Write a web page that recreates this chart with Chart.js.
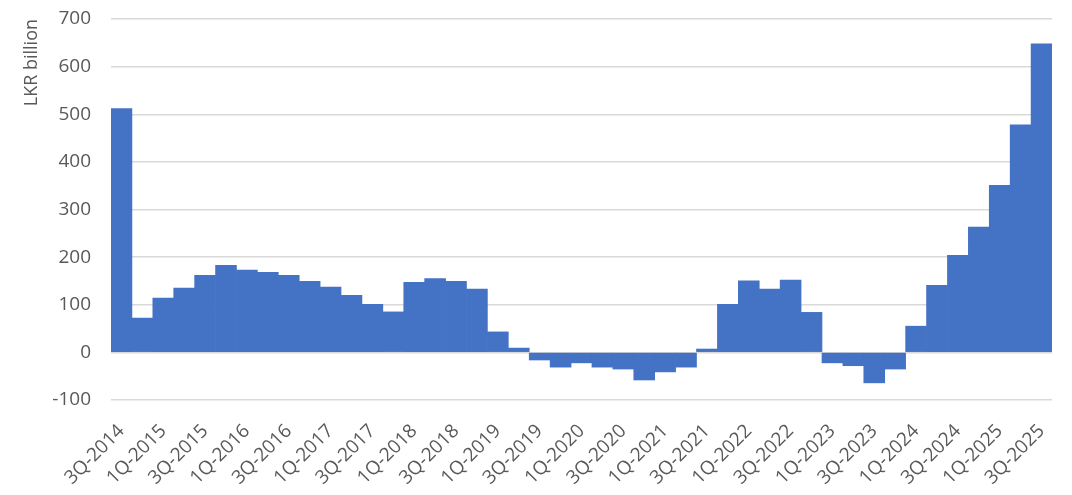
<!DOCTYPE html>
<html>
<head>
<meta charset="utf-8">
<script src="https://cdn.jsdelivr.net/npm/chart.js@4.4.0/dist/chart.umd.min.js"></script>
<style>
  html, body { margin: 0; padding: 0; background: #fff; }
  #wrap { width: 1072px; height: 495px; }
</style>
</head>
<body>
<div id="wrap"><canvas id="chart"></canvas></div>
<script>
// Quarters 3Q-2014 .. 3Q-2025
const quarters = [
  '3Q-2014', '4Q-2014',
  '1Q-2015', '2Q-2015', '3Q-2015', '4Q-2015',
  '1Q-2016', '2Q-2016', '3Q-2016', '4Q-2016',
  '1Q-2017', '2Q-2017', '3Q-2017', '4Q-2017',
  '1Q-2018', '2Q-2018', '3Q-2018', '4Q-2018',
  '1Q-2019', '2Q-2019', '3Q-2019', '4Q-2019',
  '1Q-2020', '2Q-2020', '3Q-2020', '4Q-2020',
  '1Q-2021', '2Q-2021', '3Q-2021', '4Q-2021',
  '1Q-2022', '2Q-2022', '3Q-2022', '4Q-2022',
  '1Q-2023', '2Q-2023', '3Q-2023', '4Q-2023',
  '1Q-2024', '2Q-2024', '3Q-2024', '4Q-2024',
  '1Q-2025', '2Q-2025', '3Q-2025'
];

// LKR billion
const values = [
  512, 72,
  114, 135, 162, 183,
  173, 168, 162, 149,
  137, 120, 101, 85,
  147, 155, 149, 133,
  43, 9, -16, -31,
  -22, -31, -35, -58,
  -41, -31, 7, 101,
  150, 133, 152, 84,
  -22, -28, -64, -35,
  55, 141, 204, 263,
  351, 478, 648
];

const yMin = -100;
const yMax = 700;
const yStep = 100;

const textColor = '#595959';
const fontFamily = "'Open Sans', sans-serif";

const ctx = document.getElementById('chart').getContext('2d');
new Chart(ctx, {
  type: 'bar',
  data: {
    labels: quarters,
    datasets: [{
      label: 'LKR billion',
      data: values,
      backgroundColor: '#4472C4',
      borderWidth: 0,
      categoryPercentage: 1.0,
      barPercentage: 1.0
    }]
  },
  options: {
    responsive: true,
    maintainAspectRatio: false,
    animation: false,
    layout: {
      padding: { top: 19, right: 20, left: 0, bottom: 0 }
    },
    plugins: {
      legend: { display: false },
      tooltip: { enabled: false }
    },
    scales: {
      x: {
        grid: { display: false, drawTicks: false },
        border: { display: false },
        ticks: {
          autoSkip: false,
          maxRotation: 45,
          minRotation: 45,
          padding: 20,
          color: textColor,
          font: { family: fontFamily, size: 19 },
          callback: function(value, index) {
            return index % 2 === 0 ? this.getLabelForValue(value) : '';
          }
        },
        afterFit: function(scale) {
          scale.height = 95;
          scale.paddingLeft = 0;
          scale.paddingRight = 0;
        }
      },
      y: {
        min: yMin,
        max: yMax,
        grid: {
          color: '#d9d9d9',
          lineWidth: 1.5,
          drawTicks: false
        },
        border: { display: false },
        ticks: {
          stepSize: yStep,
          padding: 20,
          color: textColor,
          font: { family: fontFamily, size: 19 }
        },
        title: {
          display: true,
          text: 'LKR billion',
          align: 'end',
          color: textColor,
          font: { family: fontFamily, size: 18 },
          padding: { top: 21, bottom: 0 }
        },
        afterFit: function(scale) {
          // fixed axis width, no extra top/bottom room from tick padding
          scale.width = 111;
          scale.paddingTop = 0;
          scale.paddingBottom = 0;
        }
      }
    }
  }
});
</script>
</body>
</html>
